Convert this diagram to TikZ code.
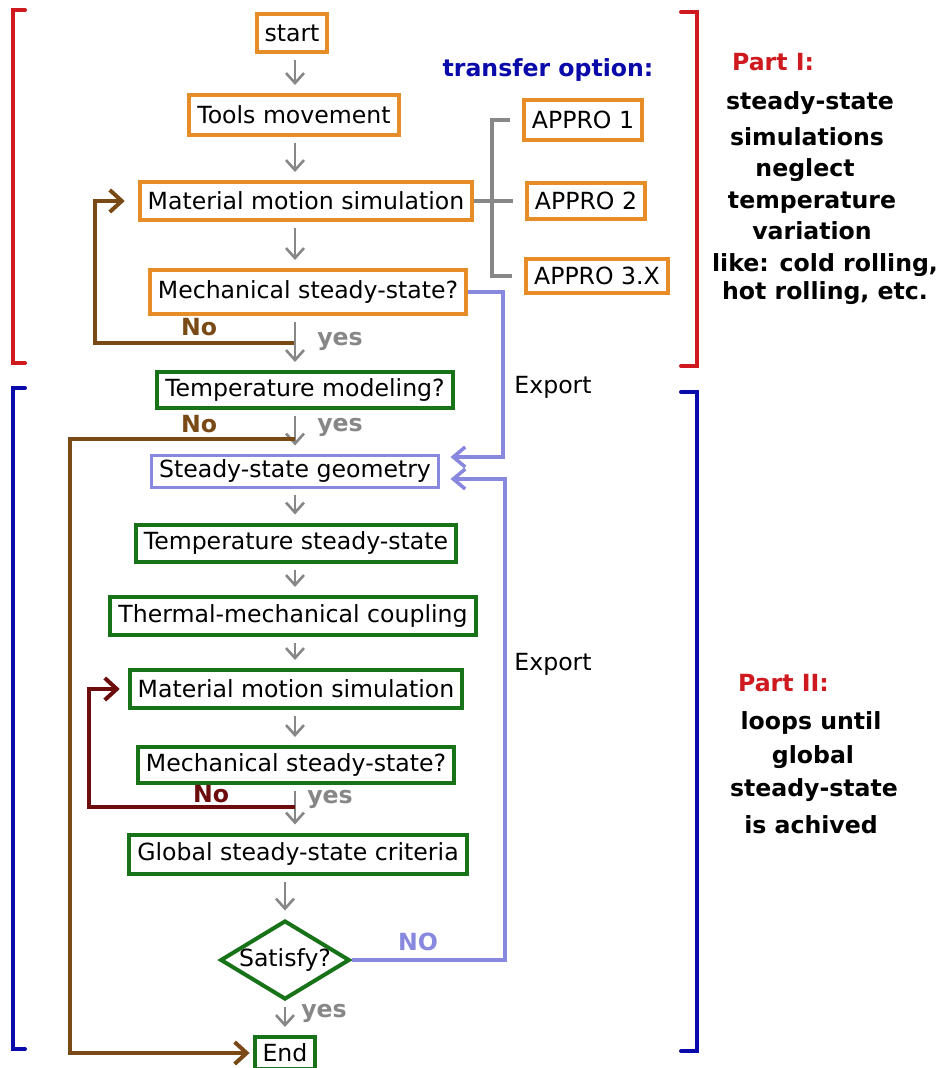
\documentclass[tikz,border=0pt]{standalone}
\usepackage{fontspec}
\setmainfont{DejaVu Sans}
\usetikzlibrary{arrows.meta,shapes.geometric,calc}

\definecolor{boxorange}{RGB}{231,141,40}
\definecolor{boxgreen}{RGB}{24,114,24}
\definecolor{flowgray}{RGB}{135,135,135}
\definecolor{loopbrown}{RGB}{122,74,22}
\definecolor{loopred}{RGB}{108,12,12}
\definecolor{exportblue}{RGB}{136,136,222}
\definecolor{partred}{RGB}{206,26,30}
\definecolor{partblue}{RGB}{10,10,170}

\newcommand{\flowfont}{\fontsize{11.8pt}{14pt}\selectfont}

\tikzset{
  orangebox/.style={draw=boxorange, line width=2pt, inner xsep=4pt, inner ysep=2pt, minimum height=19pt, font=\flowfont},
  greenbox/.style={draw=boxgreen, line width=2pt, inner xsep=4pt, inner ysep=2pt, minimum height=19pt, font=\flowfont},
  flow/.style={draw=flowgray, line width=1.3pt, -{Straight Barb[length=5pt,width=9pt]}, shorten <=3pt, shorten >=4pt},
  loopline/.style={line width=2pt, -{Straight Barb[length=6pt,width=11pt]}},
  exportline/.style={draw=exportblue, line width=1.8pt, -{Straight Barb[length=6pt,width=10pt]}, shorten >=5pt},
  tieline/.style={draw=flowgray, line width=2pt},
  bracket/.style={line width=2pt, line cap=round},
  boldlabel/.style={font=\flowfont\bfseries},
}

\begin{document}
\begin{tikzpicture}[x=0.5pt, y=-0.5pt]
\useasboundingbox (0,0) rectangle (939,1068);
\fill[white] (0,0) rectangle (939,1068);

\coordinate (col) at (295,0);

% Part I: mechanical steady-state
\node[orangebox] (start) at (292,33) {start};
\node[orangebox, minimum height=20pt] (tools) at (294,115) {Tools movement};
\node[orangebox] (matA) at (306,201) {Material motion simulation};
\node[orangebox, minimum height=22pt] (mechA) at (308,292) {Mechanical steady-state?};

\node[boldlabel, text=partblue] (transfer) at (548,70) {transfer option:};
\node[orangebox, minimum height=20pt] (ap1) at (583,120) {APPRO 1};
\node[orangebox, minimum height=18pt] (ap2) at (586,201) {APPRO 2};
\node[orangebox, minimum height=17pt] (ap3) at (597,276) {APPRO 3.X};

\coordinate (bar) at (492,0);
\draw[tieline] ([xshift=-6pt]ap1.west) -- (ap1.west -| bar) -- (ap3.west -| bar) -- ([xshift=-6pt]ap3.west);
\draw[tieline] (matA.east) -- ([xshift=-6pt]ap2.west);

\draw[flow] (start.south -| col) -- (tools.north -| col);
\draw[flow] (tools.south -| col) -- (matA.north -| col);
\draw[flow] (matA.south -| col) -- (mechA.north -| col);

\coordinate (splitA) at (295,343);
\coordinate (turnA) at (95,343);
\draw[loopline, draw=loopbrown, shorten >=6.5pt] (splitA) -- (turnA) |- (matA.west);
\node[boldlabel, text=loopbrown] (noA) at (199,327) {No};
\node[boldlabel, text=flowgray] (yesA) at (340,341) {yes};

% Part II: thermal loop
\node[greenbox, minimum height=18pt] (tempQ) at (305,390) {Temperature modeling?};
\node[draw=exportblue, line width=1.5pt, inner xsep=4pt, inner ysep=1pt, minimum height=16pt, font=\flowfont] (geo) at (295,471) {Steady-state geometry};
\node[greenbox, minimum height=18.5pt] (tempSS) at (296,543) {Temperature steady-state};
\node[greenbox] (thermal) at (293,616) {Thermal-mechanical coupling};
\node[greenbox] (matB) at (296,689) {Material motion simulation};
\node[greenbox, minimum height=18pt] (mechB) at (296,765) {Mechanical steady-state?};
\node[greenbox, minimum height=19.5pt] (glob) at (298,854) {Global steady-state criteria};
\node[diamond, draw=boxgreen, line width=2pt, aspect=1.64, inner sep=0pt, minimum width=64pt, minimum height=39pt, font=\flowfont] (sat) at (285,960) {Satisfy?};
\node[greenbox, minimum height=16pt] (end) at (285,1053) {End};

\draw[flow] (mechA.south -| col) -- (tempQ.north -| col);
\draw[flow] (tempQ.south -| col) -- (geo.north -| col);
\draw[flow] (geo.south -| col) -- (tempSS.north -| col);
\draw[flow] (tempSS.south -| col) -- (thermal.north -| col);
\draw[flow] (thermal.south -| col) -- (matB.north -| col);
\draw[flow] (matB.south -| col) -- (mechB.north -| col);
\draw[flow] (mechB.south -| col) -- (glob.north -| col);
\draw[flow] (glob.south -| sat.north) -- (sat.north);
\draw[flow] (sat.south) -- (end.north);

\coordinate (splitB) at (295,439);
\coordinate (turnB) at (70,439);
\draw[loopline, draw=loopbrown, shorten >=1.5pt] (splitB) -- (turnB) |- (end.west);
\node[boldlabel, text=loopbrown] (noB) at (199,424) {No};
\node[boldlabel, text=flowgray] (yesB) at (340,427) {yes};

\coordinate (splitC) at (295,807);
\coordinate (turnC) at (89,807);
\draw[loopline, draw=loopred, shorten >=4pt] (splitC) -- (turnC) |- (matB.west);
\node[boldlabel, text=loopred, fill=white, inner sep=0pt] (noC) at (211,794) {No};
\node[boldlabel, text=flowgray] (yesC) at (330,799) {yes};
\node[boldlabel, text=flowgray] (yesD) at (324,1013) {yes};

% export of the steady-state geometry
\coordinate (expA) at (503,457);
\coordinate (expB) at (505,479);
\draw[exportline] (mechA.east) -| (expA) -- (geo.east |- expA);
\draw[exportline] (sat.east) -| (expB) -- (geo.east |- expB);
\node[font=\flowfont] (exportA) at (553,387) {Export};
\node[font=\flowfont] (exportB) at (553,664) {Export};
\node[boldlabel, text=exportblue] (noD) at (418,942) {NO};

% brackets
\draw[bracket, partred] (25,10) -- (13,10) -- (13,363) -- (25,363);
\draw[bracket, partred] (681,12) -- (697,12) -- (697,366) -- (681,366);
\draw[bracket, partblue] (25,388) -- (13,388) -- (13,1049) -- (25,1049);
\draw[bracket, partblue] (681,392) -- (697,392) -- (697,1051) -- (681,1051);

% part notes
\node[boldlabel, text=partred, anchor=west] (partI) at (725,62) {Part I:};
\node[boldlabel] (noteA) at (810,103) {steady-state};
\node[boldlabel] (noteB) at (807,137) {simulations};
\node[boldlabel] (noteC) at (805,170) {neglect};
\node[boldlabel] (noteD) at (812,203) {temperature};
\node[boldlabel] (noteE) at (812,231) {variation};
\node[boldlabel] (noteF) at (825,265) {like: cold rolling,};
\node[boldlabel] (noteG) at (825,293) {hot rolling, etc.};

\node[boldlabel, text=partred, anchor=west] (partII) at (731,683) {Part II:};
\node[boldlabel] (noteH) at (811,723) {loops until};
\node[boldlabel] (noteI) at (813,757) {global};
\node[boldlabel] (noteJ) at (814,790) {steady-state};
\node[boldlabel] (noteK) at (811,825) {is achived};
\end{tikzpicture}
\end{document}
